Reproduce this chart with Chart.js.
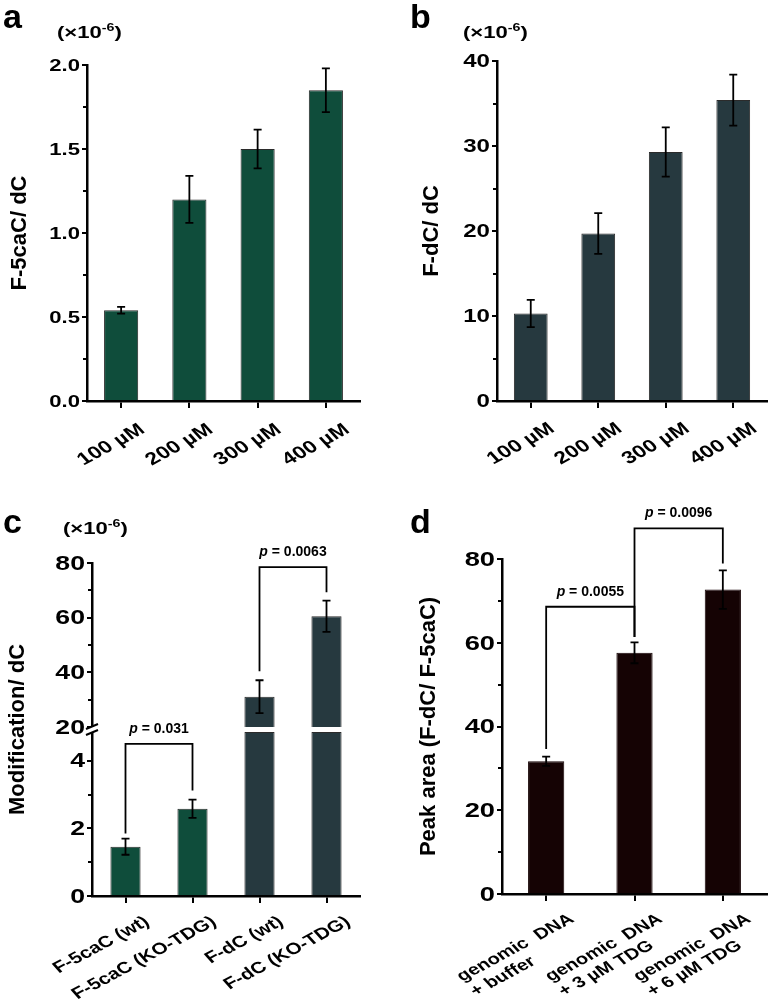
<!DOCTYPE html>
<html><head><meta charset="utf-8">
<script src="https://cdn.jsdelivr.net/npm/chart.js@4/dist/chart.umd.min.js"></script>
<style>
body{margin:0;background:#fff;width:774px;height:1001px;position:relative;overflow:hidden;font-family:"Liberation Sans",Arial,sans-serif;font-weight:bold;color:#000;}
canvas{position:absolute;}
.tag{position:absolute;font-size:34px;line-height:1;}
.unit{position:absolute;font-size:17px;line-height:1;white-space:nowrap;transform:scaleX(1.3);transform-origin:0 0;}
.unit sup{font-size:11px;}
</style></head>
<body>
<canvas id="chartA" width="387" height="470" style="left:0;top:0"></canvas>
<canvas id="chartB" width="387" height="470" style="left:387px;top:0"></canvas>
<canvas id="chartC" width="387" height="531" style="left:0;top:470px"></canvas>
<canvas id="chartD" width="387" height="531" style="left:387px;top:470px"></canvas>
<div class="tag" style="left:3px;top:-1px">a</div>
<div class="tag" style="left:410px;top:-1px">b</div>
<div class="tag" style="left:3px;top:504px">c</div>
<div class="tag" style="left:410px;top:504px">d</div>
<div class="unit" style="left:57px;top:22px">(×10<sup>-6</sup>)</div>
<div class="unit" style="left:463px;top:22px">(×10<sup>-6</sup>)</div>
<div class="unit" style="left:63px;top:518px">(×10<sup>-6</sup>)</div>
<script>
// panel a / b : dose series
const concLabels=["100 µM","200 µM","300 µM","400 µM"];
const caValues=[0.54,1.20,1.50,1.85];
const caErrors=[0.02,0.14,0.115,0.13];
const dcValues=[10.3,19.7,29.3,35.4];
const dcErrors=[1.6,2.4,2.9,3.0];
// panel c : cells
const cellLabels=["F-5caC (wt)","F-5caC (KO-TDG)","F-dC (wt)","F-dC (KO-TDG)"];
const cellValues=[1.46,2.58,31.1,60.5];
const cellErrors=[0.24,0.27,6.0,5.7];
// panel d : TDG treatment
const tdgLabels=[["genomic  DNA","+ buffer"],["genomic  DNA","+ 3 µM TDG"],["genomic  DNA","+ 6 µM TDG"]];
const tdgValues=[31.7,57.6,72.7];
const tdgErrors=[1.1,2.5,4.6];
// tick labels
const ticksA=[0,0.5,1,1.5,2], tickLabelsA=["0.0","0.5","1.0","1.5","2.0"], minorA=[0.25,0.75,1.25,1.75];
const ticksB=[0,10,20,30,40], tickLabelsB=["0","10","20","30","40"], minorB=[5,15,25,35];
const ticksCHi=[20,40,60,80], tickLabelsCHi=["20","40","60","80"], minorCHi=[30,50,70];
const ticksCLo=[0,2,4], tickLabelsCLo=["0","2","4"], minorCLo=[1,3];
const ticksD=[0,20,40,60,80], tickLabelsD=["0","20","40","60","80"], minorD=[10,30,50,70];

const FONT="'Liberation Sans', Arial, sans-serif";
Chart.defaults.font.family=FONT; Chart.defaults.color='#000';
const GREEN='#0f4d3b', SLATE='#26393f', BROWN='#150304', EDGE='#2b2b2b';
const axisBreak=20, cutLow=4.85, SX=1.3, ROT=35*Math.PI/180;

function xAxis(h){return {
  afterFit:s=>{s.height=h;},
  grid:{display:true,drawOnChartArea:false,offset:false,tickLength:7,color:'#000',lineWidth:2},
  border:{color:'#000',width:2.5},
  ticks:{display:false,autoSkip:false}
};}
function yAxis(w,min,max,vals,title,titlePad){const o={
  min,max,afterFit:s=>{s.width=w;},
  afterBuildTicks:s=>{s.ticks=vals.map(v=>({value:v}));},
  grid:{display:true,drawOnChartArea:false,tickLength:5,color:'#000',lineWidth:2},
  border:{color:'#000',width:2.5},
  ticks:{display:false}
}; if(title) o.title={display:true,text:title,color:'#000',font:{size:22,weight:'bold'},padding:{top:titlePad,bottom:0}}; return o;}

// tick texts drawn a little wider than the font, like the source figure
function axisTextPlugin(o){return {id:'axisText',afterDraw(chart){
  const ctx=chart.ctx, xs=chart.scales.x, left=chart.chartArea.left;
  ctx.save(); ctx.fillStyle='#000';
  o.y.forEach(a=>{const s=chart.scales[a.scale];
    a.vals.forEach((v,i)=>{ctx.save(); ctx.translate(left-7,s.getPixelForValue(v)); ctx.scale(SX,1);
      ctx.font='bold '+o.ySize+'px '+FONT; ctx.textAlign='right'; ctx.textBaseline='middle';
      ctx.fillText(a.labels[i],0,1); ctx.restore();});});
  chart.data.labels.forEach((lab,i)=>{const lines=[].concat(lab);
    ctx.font='bold '+o.xSize+'px '+FONT; const w=ctx.measureText(lines[0]).width;
    ctx.save(); ctx.translate(xs.getPixelForTick(i)+o.dx,xs.top+o.dy); ctx.scale(SX,1); ctx.rotate(-ROT);
    ctx.textAlign='left'; ctx.textBaseline='alphabetic';
    lines.forEach((t,k)=>ctx.fillText(t,-w,k*o.lineH)); ctx.restore();});
  ctx.restore();
}};}

function errorBarPlugin(values,errors,scaleFor){return {id:'errorBars',afterDatasetsDraw(chart){
  const ctx=chart.ctx, bars=chart.getDatasetMeta(0).data;
  ctx.save(); ctx.strokeStyle='#000'; ctx.lineWidth=1.8;
  values.forEach((v,i)=>{
    const s=chart.scales[scaleFor(v)], x=bars[i].x;
    const y1=s.getPixelForValue(v+errors[i]), y2=s.getPixelForValue(v-errors[i]);
    ctx.beginPath(); ctx.moveTo(x,y1); ctx.lineTo(x,y2);
    ctx.moveTo(x-4,y1); ctx.lineTo(x+4,y1); ctx.moveTo(x-4,y2); ctx.lineTo(x+4,y2); ctx.stroke();
  });
  ctx.restore();
}};}

function minorTickPlugin(list){return {id:'minorTicks',afterDraw(chart){
  const ctx=chart.ctx, x=chart.chartArea.left;
  ctx.save(); ctx.strokeStyle='#000'; ctx.lineWidth=2;
  list.forEach(m=>{const s=chart.scales[m.scale]; m.values.forEach(v=>{const y=Math.round(s.getPixelForValue(v));
    ctx.beginPath(); ctx.moveTo(x,y); ctx.lineTo(x-4,y); ctx.stroke();});});
  ctx.restore();
}};}

function drawP(ctx,x,y,text){
  ctx.font='italic bold 14px '+FONT; const wp=ctx.measureText('p').width;
  ctx.font='bold 14px '+FONT; const rest=' = '+text, wr=ctx.measureText(rest).width;
  const x0=x-(wp+wr)/2; ctx.textBaseline='middle'; ctx.textAlign='left'; ctx.fillStyle='#000';
  ctx.font='italic bold 14px '+FONT; ctx.fillText('p',x0,y);
  ctx.font='bold 14px '+FONT; ctx.fillText(rest,x0+wp,y);
}
function bracketPlugin(list){return {id:'brackets',afterDraw(chart){
  const ctx=chart.ctx, bars=chart.getDatasetMeta(0).data;
  ctx.save(); ctx.strokeStyle='#000'; ctx.lineWidth=1.8;
  list.forEach(b=>{const s=chart.scales[b.scale];
    const xa=bars[b.from].x, xb=bars[b.to].x, yt=s.getPixelForValue(b.top);
    ctx.beginPath(); ctx.moveTo(xa,s.getPixelForValue(b.leftEnd)); ctx.lineTo(xa,yt); ctx.lineTo(xb,yt);
    ctx.lineTo(xb,s.getPixelForValue(b.rightEnd)); ctx.stroke();
    drawP(ctx,(xa+xb)/2,yt-15,b.p);
  });
  ctx.restore();
}};}

const axisBreakPlugin={id:'axisBreak',afterDraw(chart){
  const ctx=chart.ctx, x=chart.chartArea.left, b=chart.scales.yLo.top;
  ctx.save(); ctx.fillStyle='#fff'; ctx.fillRect(x-3,b,6,5);
  ctx.strokeStyle='#000'; ctx.lineWidth=2;
  ctx.beginPath(); ctx.moveTo(x-6,b+2); ctx.lineTo(x+6,b-3); ctx.moveTo(x-6,b+8); ctx.lineTo(x+6,b+3); ctx.stroke();
  // y title centred over both stacked axes
  ctx.translate(18,(chart.chartArea.top+chart.chartArea.bottom)/2); ctx.rotate(-Math.PI/2);
  ctx.font='bold 22px '+FONT; ctx.textAlign='center'; ctx.textBaseline='middle'; ctx.fillStyle='#000';
  ctx.fillText('Modification/ dC',0,0);
  ctx.restore();
}};

const noLegend={legend:{display:false},tooltip:{enabled:false}};

// a
new Chart(document.getElementById('chartA'),{type:'bar',
  data:{labels:concLabels,datasets:[{data:caValues,backgroundColor:GREEN,borderColor:EDGE,borderWidth:1,barPercentage:0.5,categoryPercentage:1}]},
  options:{responsive:false,animation:false,layout:{padding:{top:65,right:27}},plugins:noLegend,
    scales:{x:xAxis(69),y:yAxis(87,0,2,ticksA,'F-5caC/ dC',7)}},
  plugins:[errorBarPlugin(caValues,caErrors,()=>'y'),minorTickPlugin([{scale:'y',values:minorA}]),
    axisTextPlugin({y:[{scale:'y',vals:ticksA,labels:tickLabelsA}],ySize:17,xSize:17.5,dx:25,dy:31,lineH:17})]});

// b
new Chart(document.getElementById('chartB'),{type:'bar',
  data:{labels:concLabels,datasets:[{data:dcValues,backgroundColor:SLATE,borderColor:EDGE,borderWidth:1,barPercentage:0.5,categoryPercentage:1}]},
  options:{responsive:false,animation:false,layout:{padding:{top:61,right:7}},plugins:noLegend,
    scales:{x:xAxis(69),y:yAxis(110,0,40,ticksB,'F-dC/ dC',32)}},
  plugins:[errorBarPlugin(dcValues,dcErrors,()=>'y'),minorTickPlugin([{scale:'y',values:minorB}]),
    axisTextPlugin({y:[{scale:'y',vals:ticksB,labels:tickLabelsB}],ySize:18.5,xSize:17.5,dx:25,dy:30,lineH:17})]});

// c (broken axis: two stacked y scales)
const cellColors=[GREEN,GREEN,SLATE,SLATE];
const yHi=yAxis(92,axisBreak,80,ticksCHi); Object.assign(yHi,{position:'left',stack:'c',stackWeight:164});
const yLo=yAxis(92,0,5,ticksCLo); Object.assign(yLo,{position:'left',stack:'c',stackWeight:169});
new Chart(document.getElementById('chartC'),{type:'bar',
  data:{labels:cellLabels,datasets:[
    {data:cellValues.map(v=>Math.min(v,cutLow)),yAxisID:'yLo',grouped:false,backgroundColor:cellColors,borderColor:EDGE,borderWidth:1,barPercentage:0.45,categoryPercentage:1},
    {data:cellValues.map(v=>v>axisBreak?[axisBreak,v]:null),yAxisID:'yHi',grouped:false,backgroundColor:cellColors,borderColor:EDGE,borderWidth:1,barPercentage:0.45,categoryPercentage:1}]},
  options:{responsive:false,animation:false,layout:{padding:{top:93,right:27}},plugins:noLegend,
    scales:{x:xAxis(105),yLo,yHi}},
  plugins:[errorBarPlugin(cellValues,cellErrors,v=>v>axisBreak?'yHi':'yLo'),
    minorTickPlugin([{scale:'yHi',values:minorCHi},{scale:'yLo',values:minorCLo}]),
    bracketPlugin([{from:0,to:1,scale:'yLo',top:4.5,leftEnd:1.85,rightEnd:3.12,p:'0.031'},
                   {from:2,to:3,scale:'yHi',top:78.5,leftEnd:40.4,rightEnd:69.3,p:'0.0063'}]),
    axisBreakPlugin,
    axisTextPlugin({y:[{scale:'yHi',vals:ticksCHi,labels:tickLabelsCHi},{scale:'yLo',vals:ticksCLo,labels:tickLabelsCLo}],ySize:20.5,xSize:16,dx:25,dy:28,lineH:17})]});

// d
new Chart(document.getElementById('chartD'),{type:'bar',
  data:{labels:tdgLabels,datasets:[{data:tdgValues,backgroundColor:BROWN,borderColor:BROWN,borderWidth:1,barPercentage:0.41,categoryPercentage:1}]},
  options:{responsive:false,animation:false,layout:{padding:{top:89,right:7}},plugins:noLegend,
    scales:{x:xAxis(107),y:yAxis(115,0,80,ticksD,'Peak area (F-dC/ F-5caC)',29)}},
  plugins:[errorBarPlugin(tdgValues,tdgErrors,()=>'y'),minorTickPlugin([{scale:'y',values:minorD}]),
    bracketPlugin([{from:0,to:1,scale:'y',top:68.6,leftEnd:34.6,rightEnd:61.4,p:'0.0055'},
                   {from:1,to:2,scale:'y',top:87.3,leftEnd:61.4,rightEnd:78.9,p:'0.0096'}]),
    axisTextPlugin({y:[{scale:'y',vals:ticksD,labels:tickLabelsD}],ySize:21,xSize:15.5,dx:29,dy:27,lineH:18})]});
</script>
</body></html>
